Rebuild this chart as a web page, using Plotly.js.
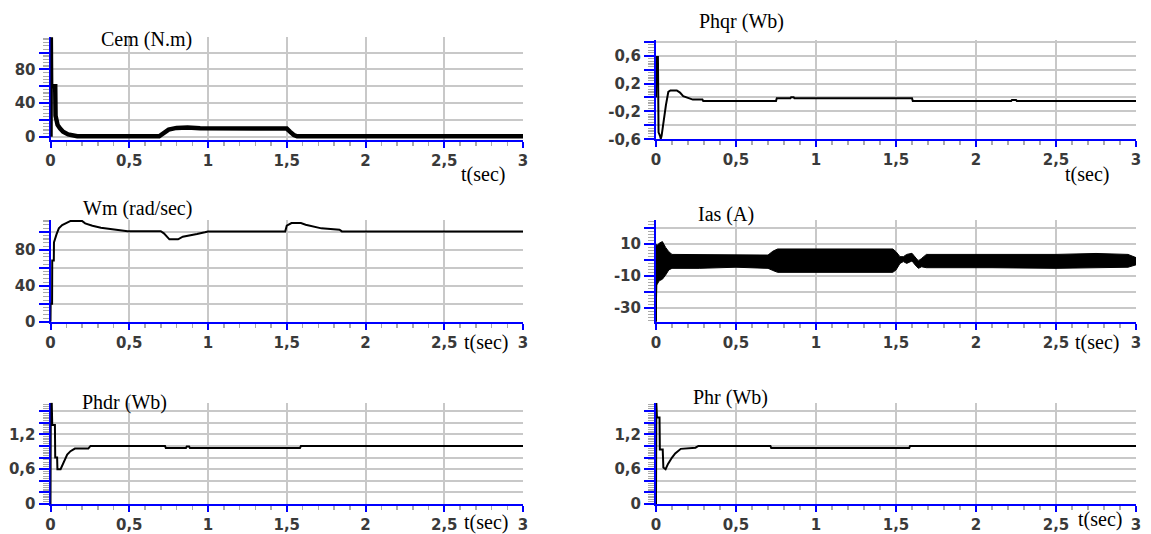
<!DOCTYPE html>
<html>
<head>
<meta charset="utf-8">
<script src="https://cdn.plot.ly/plotly-3.0.1.min.js"></script>
<style>
  html, body { margin: 0; padding: 0; background: #ffffff; }
  #chart { width: 1151px; height: 534px; }
</style>
</head>
<body>
<div id="chart"></div>
<script>
// ---------------- data ----------------
const xTickVals   = [0, 0.5, 1, 1.5, 2, 2.5, 3];
const xTickLabels = ['0', '0,5', '1', '1,5', '2', '2,5', '3'];

// Cem (N.m)
const cemT = [0, 0.002, 0.004, 0.015, 0.03, 0.032, 0.045, 0.06, 0.08, 0.112, 0.144, 0.17, 0.69, 0.72, 0.75, 0.8, 0.87, 0.95, 1.2, 1.5, 1.52, 1.545, 1.566, 1.7, 3];
const cemV = [0, 118, 60, 60, 60, 25, 14, 10, 6, 2.8, 0.8, 0.5, 0.5, 4, 8.5, 10.5, 11, 10, 9.7, 9.7, 6, 2, 0.5, 0.5, 0.5];
const cemTickVals   = [0, 20, 40, 60, 80, 100];
const cemTickLabels = ['0', '', '40', '', '80', ''];

// Phqr (Wb)
const phqrT = [0, 0.003, 0.012, 0.016, 0.025, 0.03, 0.035, 0.042, 0.05, 0.062, 0.077, 0.09, 0.13, 0.15, 0.17, 0.2, 0.23, 0.29, 0.295, 0.75, 0.755, 0.84, 0.845, 0.86, 0.865, 1.6, 1.605, 2.22, 2.225, 2.25, 2.255, 3];
const phqrV = [0, 0.58, 0.58, -0.5, -0.55, -0.59, -0.55, -0.42, -0.25, -0.11, 0.08, 0.1, 0.1, 0.07, 0.02, -0.01, -0.03, -0.03, -0.05, -0.05, -0.01, -0.01, 0.005, 0.005, -0.01, -0.01, -0.05, -0.05, -0.035, -0.035, -0.05, -0.05];
const phqrTickVals   = [-0.6, -0.4, -0.2, 0, 0.2, 0.4, 0.6, 0.8];
const phqrTickLabels = ['-0,6', '', '-0,2', '', '0,2', '', '0,6', ''];

// Wm (rad/sec)
const wmT = [0, 0.001, 0.01, 0.011, 0.021, 0.022, 0.038, 0.053, 0.074, 0.096, 0.128, 0.2, 0.22, 0.266, 0.32, 0.38, 0.49, 0.7, 0.72, 0.755, 0.81, 0.84, 0.88, 0.93, 0.98, 1.0, 1.49, 1.5, 1.53, 1.59, 1.62, 1.67, 1.72, 1.835, 1.85, 3];
const wmV = [0, 20, 20, 68, 68, 88, 97, 103.7, 107.4, 109.3, 112, 112, 109.3, 106.7, 104.5, 103, 100.5, 100.5, 98.2, 91.5, 91.5, 94.5, 95.6, 97.4, 99.3, 100.3, 100.3, 106.7, 109.6, 109.6, 107.8, 106, 103.7, 102.2, 100.3, 100.3];
const wmTickVals   = [0, 20, 40, 60, 80, 100];
const wmTickLabels = ['0', '', '40', '', '80', ''];

// Ias (A) : envelope of the fast oscillation
const iasT     = [0, 0.005, 0.02, 0.04, 0.06, 0.08, 0.1, 0.27, 0.5, 0.7, 0.73, 0.76, 1.0, 1.3, 1.48, 1.5, 1.525, 1.546, 1.567, 1.6, 1.62, 1.64, 1.66, 1.69, 2.1, 2.5, 2.75, 2.95, 3.0];
const iasUpper = [10, 9, 10.5, 11.5, 7.9, 5.2, 3.5, 3.5, 3.1, 3.1, 5.5, 6.9, 6.9, 6.9, 6.9, 5.2, 2.1, 2.1, 3.5, 4.2, 2.1, -0.6, 1.0, 3.5, 3.5, 3.5, 4.1, 3.5, 1.5];
const iasLower = [-38, -15.6, -13, -12, -9.4, -6.2, -5.2, -5.2, -4.5, -5.2, -6.5, -7.7, -7.7, -7.7, -7.7, -6.2, -2.1, -1.0, -2.1, -0.6, -3.1, -5.2, -4.2, -4.8, -4.8, -5.2, -4.8, -4.5, -3];
// initial current spike at t = 0
const iasSpikeT = [0, 0];
const iasSpikeV = [-38.5, 8];
const iasTickVals   = [-30, -20, -10, 0, 10, 20];
const iasTickLabels = ['-30', '', '-10', '', '10', ''];

// Phdr (Wb)
const phdrT = [0, 0.002, 0.008, 0.011, 0.028, 0.03, 0.042, 0.044, 0.064, 0.076, 0.09, 0.106, 0.127, 0.155, 0.24, 0.254, 0.727, 0.732, 0.86, 0.865, 0.88, 0.885, 1.584, 1.59, 3];
const phdrV = [0, 1.73, 1.73, 1.36, 1.36, 0.8, 0.8, 0.6, 0.6, 0.68, 0.77, 0.85, 0.91, 0.955, 0.955, 1.0, 1.0, 0.966, 0.966, 0.99, 0.99, 0.966, 0.966, 1.0, 1.0];

// Phr (Wb)
const phrT = [0, 0.002, 0.006, 0.022, 0.024, 0.042, 0.046, 0.06, 0.075, 0.1, 0.12, 0.155, 0.247, 0.265, 0.715, 0.72, 1.583, 1.588, 3];
const phrV = [0, 1.74, 1.49, 1.49, 0.94, 0.94, 0.63, 0.6, 0.69, 0.8, 0.87, 0.95, 0.97, 1.0, 1.0, 0.966, 0.966, 1.0, 1.0];

const fluxTickVals   = [0, 0.2, 0.4, 0.6, 0.8, 1.0, 1.2, 1.4, 1.6];
const fluxTickLabels = ['0', '', '', '0,6', '', '', '1,2', '', ''];

// ---------------- layout geometry (pixels) ----------------
const W = 1151, H = 534;
const BLUE = 'rgb(0,0,255)';
const GRID = 'rgb(200,200,200)';
const MINOR = 'rgb(170,170,170)';
const tickFont = {family: 'DejaVu Sans, sans-serif', size: 15, color: '#3a3a3a', weight: 'bold'};
const serif = {family: 'Liberation Serif, Times New Roman, serif', size: 20, color: '#000', weight: 'normal'};

function xd(l, r) { return [l / W, r / W]; }
function yd(b, t) { return [(H - b) / H, (H - t) / H]; }

const panels = [
  {x: xd(50.5, 523), y: yd(140, 36.7), range: [-3.9, 118.8], tv: cemTickVals, tt: cemTickLabels, minor: 4},
  {x: xd(656, 1136), y: yd(139.3, 40), range: [-0.6, 0.825], tv: phqrTickVals, tt: phqrTickLabels, minor: 0.04},
  {x: xd(50.5, 523), y: yd(321.7, 220), range: [0, 113], tv: wmTickVals, tt: wmTickLabels, minor: 4},
  {x: xd(656, 1136), y: yd(322.3, 220), range: [-38.9, 25], tv: iasTickVals, tt: iasTickLabels, minor: 2},
  {x: xd(50.5, 523), y: yd(504, 402.7), range: [0, 1.745], tv: fluxTickVals, tt: fluxTickLabels, minor: 0.04},
  {x: xd(656, 1136), y: yd(504, 402.7), range: [0, 1.745], tv: fluxTickVals, tt: fluxTickLabels, minor: 0.04}
];

const layout = {
  width: W, height: H,
  margin: {l: 0, r: 0, t: 0, b: 0, pad: 0},
  paper_bgcolor: '#ffffff', plot_bgcolor: '#ffffff',
  showlegend: false,
  annotations: [],
  font: {family: 'DejaVu Sans, sans-serif', size: 15, color: '#3a3a3a'}
};

panels.forEach((p, i) => {
  const n = i + 1;
  const xk = n === 1 ? 'xaxis' : 'xaxis' + n;
  const yk = n === 1 ? 'yaxis' : 'yaxis' + n;
  layout[xk] = {
    domain: p.x, range: [0, 3], anchor: 'y' + (n === 1 ? '' : n),
    tickmode: 'array', tickvals: xTickVals, ticktext: xTickLabels,
    ticks: 'outside', ticklen: 6, tickwidth: 2, tickcolor: BLUE,
    showline: true, linecolor: BLUE, linewidth: 2,
    showgrid: true, gridcolor: GRID, gridwidth: 2, zeroline: false,
    tickfont: tickFont, layer: 'below traces',
    minor: {tickmode: 'linear', tick0: 0, dtick: 0.1, ticks: 'outside', ticklen: 4, tickwidth: 1.5, tickcolor: MINOR, showgrid: false}
  };
  layout[yk] = {
    domain: p.y, range: p.range, anchor: 'x' + (n === 1 ? '' : n),
    tickmode: 'array', tickvals: p.tv, ticktext: p.tt,
    ticks: 'outside', ticklen: 10, tickwidth: 2, tickcolor: BLUE,
    showline: true, linecolor: BLUE, linewidth: 2,
    showgrid: true, gridcolor: GRID, gridwidth: 2, zeroline: false,
    tickfont: tickFont, layer: 'below traces',
    minor: {tickmode: 'linear', tick0: p.tv[0], dtick: p.minor, ticks: 'outside', ticklen: 6, tickwidth: 1.2, tickcolor: MINOR, showgrid: false}
  };
});

function line(n, t, v, w) {
  return {type: 'scatter', mode: 'lines', x: t, y: v,
          xaxis: 'x' + (n === 1 ? '' : n), yaxis: 'y' + (n === 1 ? '' : n),
          line: {color: '#000', width: w}, hoverinfo: 'skip'};
}

const data = [
  line(1, cemT, cemV, 4.5),
  line(2, phqrT, phqrV, 2),
  line(3, wmT, wmV, 2),
  {type: 'scatter', mode: 'lines',
   x: iasT.concat(iasT.slice().reverse()),
   y: iasUpper.concat(iasLower.slice().reverse()),
   xaxis: 'x4', yaxis: 'y4', fill: 'toself', fillcolor: '#000',
   line: {color: '#000', width: 1}, hoverinfo: 'skip'},
  line(4, iasSpikeT, iasSpikeV, 2),
  line(5, phdrT, phdrV, 2),
  line(6, phrT, phrV, 2)
];

// ---------------- text labels ----------------
function note(text, px, py) {
  layout.annotations.push({text: text, xref: 'paper', yref: 'paper',
    x: px / W, y: 1 - py / H, xanchor: 'left', yanchor: 'middle',
    showarrow: false, font: serif});
}
note('Cem (N.m)', 99, 40);
note('Phqr (Wb)', 697, 22);
note('Wm (rad/sec)', 81, 209);
note('Ias (A)', 696, 214);
note('Phdr (Wb)', 80, 402);
note('Phr (Wb)', 691, 397);
note('t(sec)', 459, 174);
note('t(sec)', 1063, 174);
note('t(sec)', 462, 342);
note('t(sec)', 1073, 342);
note('t(sec)', 462, 522);
note('t(sec)', 1076, 519);

Plotly.newPlot('chart', data, layout, {staticPlot: true, displayModeBar: false});
</script>
</body>
</html>
